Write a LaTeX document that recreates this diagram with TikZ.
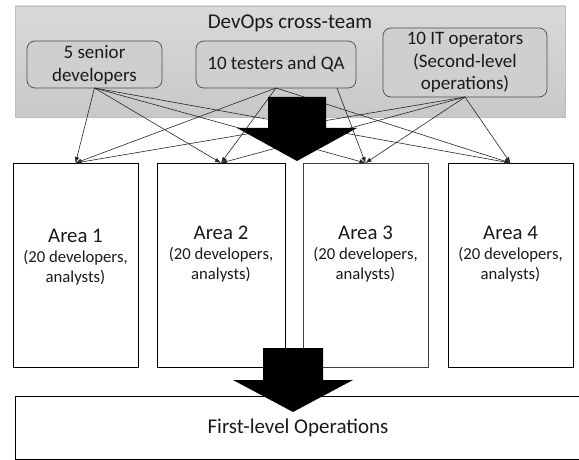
\documentclass[tikz,border=0pt]{standalone}
\usepackage{fontspec}
\setmainfont{Carlito}
\usetikzlibrary{arrows.meta}
\definecolor{paneltop}{HTML}{D9D9D9}
\definecolor{panelbot}{HTML}{C8C8C8}
\definecolor{panelborder}{HTML}{BDBDBD}
\definecolor{memberfill}{HTML}{CFCFCF}
\definecolor{ink}{HTML}{1A1A1A}
\begin{document}
\begin{tikzpicture}[x=1pt,y=-1pt,
  every node/.style={text=ink},
  conn/.style={draw=black!85, line width=0.6pt, -{Latex[length=6pt,width=4.5pt]}},
  member/.style={draw=black!70, fill=memberfill, rounded corners=8pt, line width=0.7pt,
    inner sep=0pt, outer sep=0pt, align=center, font=\fontsize{19}{23}\selectfont},
  areabox/.style={draw=black, fill=white, line width=0.8pt, inner sep=0pt, outer sep=0pt},
  areahead/.style={font=\fontsize{20.8}{24}\selectfont, inner sep=0pt},
  areabody/.style={font=\fontsize{16.7}{20}\selectfont, align=center, inner sep=0pt},
  bigarrow/.style={fill=black}
]
\useasboundingbox (0,0) rectangle (579,460);

% DevOps panel
\node[draw=panelborder, top color=paneltop, bottom color=panelbot, line width=0.7pt,
      minimum width=550pt, minimum height=111pt, inner sep=0pt] (team) at (290,61.5) {};
\node[font=\fontsize{21}{25}\selectfont, inner sep=0pt] (title) at (290,23) {DevOps cross-team};

% members
\node[member, minimum width=135pt, minimum height=47pt] (sr) at (94.5,64.5) {5 senior\\developers};
\node[member, minimum width=160pt, minimum height=47pt] (qa) at (276,64.5) {10 testers and QA};
\node[member, minimum width=164pt, minimum height=69pt, font=\fontsize{19}{22.5}\selectfont] (it) at (465,62.5)
  {10 IT operators\\(Second-level\\operations)};
\coordinate (qa2) at (337,88);

% areas
\node[areabox, minimum width=125pt, minimum height=204pt] (a1) at (75.5,265) {};
\node[areabox, minimum width=128pt, minimum height=204pt] (a2) at (221,265) {};
\node[areabox, draw=black!75, minimum width=125pt, minimum height=204pt] (a3) at (365.5,265) {};
\node[areabox, minimum width=125pt, minimum height=204pt] (a4) at (510.5,265) {};

\node[areahead] (a1h) at (75.5,236) {Area 1};
\node[areabody] (a1b) at (75.5,268) {(20 developers,\\analysts)};
\node[areahead] (a2h) at (221,233) {Area 2};
\node[areabody] (a2b) at (221,265) {(20 developers,\\analysts)};
\node[areahead] (a3h) at (365.5,233) {Area 3};
\node[areabody] (a3b) at (365.5,265) {(20 developers,\\analysts)};
\node[areahead] (a4h) at (510.5,233) {Area 4};
\node[areabody] (a4b) at (510.5,265) {(20 developers,\\analysts)};

% connectors
\foreach \t in {a1,a2,a3,a4} {
  \draw[conn] (sr.south) -- (\t.north);
  \draw[conn] (it.south) -- (\t.north);
}
\draw[conn] (qa.south) -- (a1.north);
\draw[conn] (qa.south) -- (a2.north);
\draw[conn] (qa2) -- (a3.north);
\draw[conn] (qa.south) -- (a4.north);

% big arrow 1
\fill[bigarrow] (268,97) -- (326,97) -- (326,128) -- (357,128) -- (297,161) -- (237,128) -- (268,128) -- cycle;

% first-level operations
\node[draw=black, fill=white, line width=0.8pt, minimum width=566pt, minimum height=63pt,
      inner sep=0pt, outer sep=0pt] (ops) at (298,427.5) {};
\node[font=\fontsize{21}{25}\selectfont, inner sep=0pt] (opst) at (298,428) {First-level Operations};

% big arrow 2
\fill[bigarrow] (263,348) -- (323,348) -- (323,380) -- (353,380) -- (293,412) -- (233,380) -- (263,380) -- cycle;
\end{tikzpicture}
\end{document}
